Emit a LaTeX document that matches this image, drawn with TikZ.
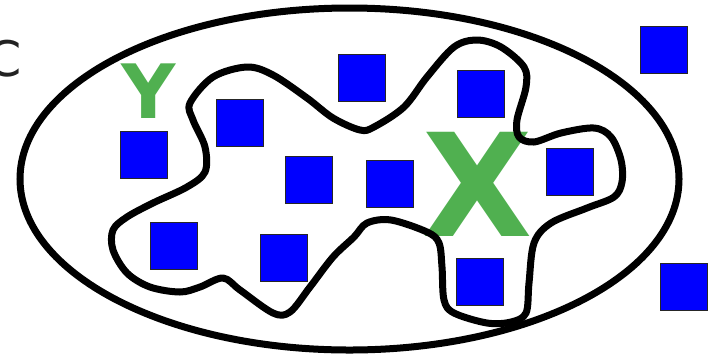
\documentclass[tikz,border=0pt]{standalone}
\usepackage{fontspec}
\newfontfamily\lblfont{DejaVu Sans}
\usepackage{tikz}
\definecolor{setgreen}{RGB}{80,176,80}
\definecolor{labelgray}{RGB}{34,34,34}

\begin{document}
\begin{tikzpicture}[x=1pt, y=-1pt,
  elem/.style={draw=black!85, fill=blue, line width=1pt, minimum size=47pt, inner sep=0pt},
  bound/.style={draw=black, line width=7pt},
  setlabel/.style={text=setgreen, inner sep=0pt, font=\lblfont\bfseries}]
\useasboundingbox (0,0) rectangle (708,360);

\draw[bound] (349.5,179) ellipse [x radius=329.5, y radius=171];
\node[text=labelgray, inner sep=0pt, font=\lblfont\fontsize{49}{52}\selectfont] (C) at (5,59) {C};

\foreach \px/\py [count=\n] in {144/155, 240/123, 309/180, 174/246, 284/258, 362/78,
    481/94, 390/184, 570/172, 480/282, 664/50, 684/287}
  \node[elem] (e\n) at (\px,\py) {};

\node[setlabel, font=\lblfont\bfseries\fontsize{75}{80}\selectfont] (Y) at (148.5,91.5) {Y};
\node[setlabel, font=\lblfont\bfseries\fontsize{143}{150}\selectfont] (X) at (477.5,184) {X};

\draw[bound, line join=round] plot[smooth cycle, tension=0.55] coordinates {
  (190,103) (213,77) (247,67) (273,75) (307,98) (333,118) (360,130) (374,127)
  (404,107) (427,77) (454,47) (477,40) (501,47) (524,67) (526,87) (517,120)
  (519,137) (534,142) (561,133) (594,128) (611,137) (621,160) (622,182) (614,197)
  (587,208) (551,223) (534,243) (529,283) (526,313) (511,322) (487,323) (454,313)
  (444,300) (442,267) (439,243) (427,232) (391,220) (367,223) (354,237) (333,257)
  (310,287) (290,312) (273,313) (240,290) (223,278) (200,287) (180,292) (150,287)
  (127,273) (113,250) (113,230) (127,217) (153,203) (187,187) (205,172) (205,147)
  (193,120)};
\end{tikzpicture}
\end{document}
